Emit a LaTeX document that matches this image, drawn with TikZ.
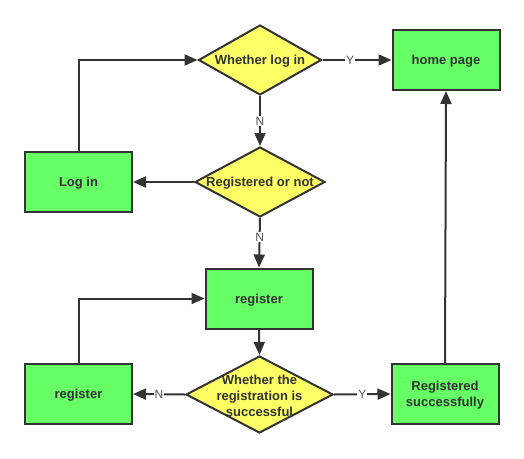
\documentclass[tikz,border=0pt]{standalone}
\usepackage{fontspec}
\setmainfont{Liberation Sans}
\usetikzlibrary{arrows.meta,shapes.geometric}
\definecolor{boxgreen}{HTML}{66FF66}
\definecolor{qyellow}{HTML}{FFFF66}
\definecolor{ink}{HTML}{333333}
\begin{document}
\begin{tikzpicture}[x=1pt, y=-1pt, >={Triangle[length=13pt,width=11pt]},
	line width=2pt, draw=ink,
	step box/.style={draw=ink, fill=boxgreen, minimum width=107pt, minimum height=60pt, inner sep=0pt,
		text=ink, font=\fontsize{13}{16}\selectfont\bfseries, align=center, text depth=0pt},
	question/.style={shape=diamond, draw=ink, fill=qyellow, inner sep=0pt},
	qtext/.style={text=ink, font=\fontsize{13}{16}\selectfont\bfseries, align=center, inner sep=0pt, yshift=-1.5pt},
	yn/.style={fill=white, text=ink!85, font=\fontsize{12}{14}\selectfont, inner sep=1pt}]
	\useasboundingbox (0,0) rectangle (524,458);
	% boxes
	\node[step box] (home) at (446,60) {home page};
	\node[step box] (login) at (78.5,182) {Log in};
	\node[step box] (reg) at (259,298.5) {register};
	\node[step box] (regleft) at (78.5,394) {register};
	\node[step box] (success) at (445,394) {Registered\\successfully};
	% questions
	\node[question, minimum width=123pt, minimum height=70pt] (q1) at (260,60) {};
	\node[qtext] (q1t) at (q1.center) {Whether log in};
	\node[question, minimum width=130pt, minimum height=70pt] (q2) at (260,182) {};
	\node[qtext] (q2t) at (q2.center) {Registered or not};
	\node[question, minimum width=147pt, minimum height=77pt] (q3) at (259.5,394.5) {};
	\node[qtext] (q3t) at (q3.center) {Whether the\\registration is\\successful};
	% arrows
	\draw[->] (q1.east) -- node[yn, pos=0.4] {Y} (home.west);
	\draw[->] (q1.south) -- node[yn] {N} (q2.north);
	\draw[->] (q2.west) -- (login.east);
	\draw[->] (login.north) |- (q1.west);
	\draw[->] (q2.south) -- node[yn, pos=0.39] {N} (reg.north);
	\draw[->] (reg.south) -- (q3.north);
	\draw[->] (q3.west) -- node[yn] {N} (regleft.east);
	\draw[->] (q3.east) -- node[yn] {Y} (success.west);
	\draw[->] (regleft.north) |- (reg.west);
	\draw[->] (success.north) -- (home.south);
\end{tikzpicture}
\end{document}
